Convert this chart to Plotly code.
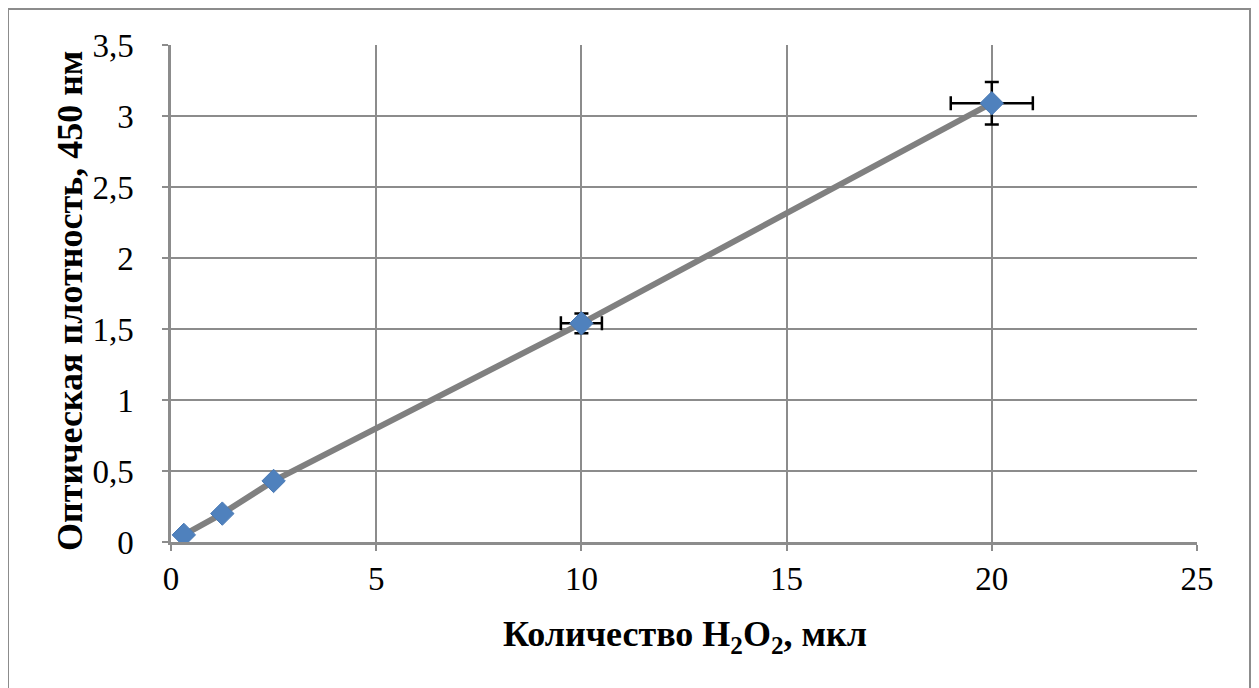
import plotly.graph_objects as go

x_vals = [0.3125, 1.25, 2.5, 10, 20]
y_vals = [0.05, 0.20, 0.43, 1.54, 3.09]
x_err = [0, 0, 0, 0.5, 1.0]
y_err = [0, 0, 0, 0.07, 0.15]

x_ticks = [0, 5, 10, 15, 20, 25]
y_ticks = [0, 0.5, 1, 1.5, 2, 2.5, 3, 3.5]

x_title = "Количество H<sub>2</sub>O<sub>2</sub>, мкл"
y_title = "Оптическая плотность, 450 нм"

W, H = 1259, 688
OFF = 8  # page body margin
L, R, T, B = 171 - OFF, 62 + OFF, 45 - OFF, 146 + OFF
pw, ph = W - L - R, H - T - B

fig = go.Figure()
fig.add_trace(go.Scatter(x=x_vals, y=y_vals, mode="lines",
                         line=dict(color="#808080", width=6), hoverinfo="skip", showlegend=False))

idx = [i for i in range(len(x_vals)) if x_err[i] > 0 or y_err[i] > 0]
fig.add_trace(go.Scatter(x=[x_vals[i] for i in idx], y=[y_vals[i] for i in idx], mode="markers",
                         marker=dict(size=1, color="rgba(0,0,0,0)"),
                         error_x=dict(type="data", array=[x_err[i] for i in idx], color="black",
                                      thickness=2.5, width=7),
                         error_y=dict(type="data", array=[y_err[i] for i in idx], color="black",
                                      thickness=2.5, width=7),
                         showlegend=False, hoverinfo="skip"))

fig.add_trace(go.Scatter(x=x_vals, y=y_vals, mode="markers",
                         marker=dict(symbol="diamond", size=18, color="#4F81BD",
                                     line=dict(color="#4A7AB5", width=1)),
                         showlegend=False))

def px_x(px):
    return (px - OFF - L) / pw

def px_y(py):
    return (H - B - (py - OFF)) / ph

fig.add_shape(type="rect", xref="paper", yref="paper",
              x0=px_x(7), x1=px_x(1251), y0=px_y(730), y1=px_y(8),
              line=dict(color="#8c8c8c", width=4), layer="below")

fig.add_annotation(text="<b>" + x_title + "</b>", xref="paper", yref="paper",
                   x=px_x(685), y=px_y(636), xanchor="center", yanchor="middle",
                   showarrow=False, font=dict(family="Liberation Serif", size=36, color="black"))
fig.add_annotation(text="<b>" + y_title + "</b>", xref="paper", yref="paper",
                   x=px_x(70), y=px_y(301), xanchor="center", yanchor="middle", textangle=-90,
                   showarrow=False, font=dict(family="Liberation Serif", size=36, color="black"))

tickfont = dict(family="Liberation Serif", size=33, color="black")
axis_common = dict(showgrid=True, gridcolor="#8c8c8c", gridwidth=2,
                   showline=True, linecolor="#8c8c8c", linewidth=2.5,
                   ticks="outside", ticklen=6, tickwidth=2, tickcolor="#8c8c8c",
                   zeroline=False, tickfont=tickfont, automargin=False)

fig.update_layout(
    width=W, height=H,
    margin=dict(l=L, r=R, t=T, b=B),
    paper_bgcolor="white", plot_bgcolor="white",
    separators=", ",
    font=dict(family="Liberation Serif", size=33, color="black"),
    xaxis=dict(range=[0, 25], tickvals=x_ticks, ticklabelstandoff=0, **axis_common),
    yaxis=dict(range=[0, 3.5], tickvals=y_ticks, ticklabelstandoff=22, **axis_common),
)
fig.write_html("out.html")
